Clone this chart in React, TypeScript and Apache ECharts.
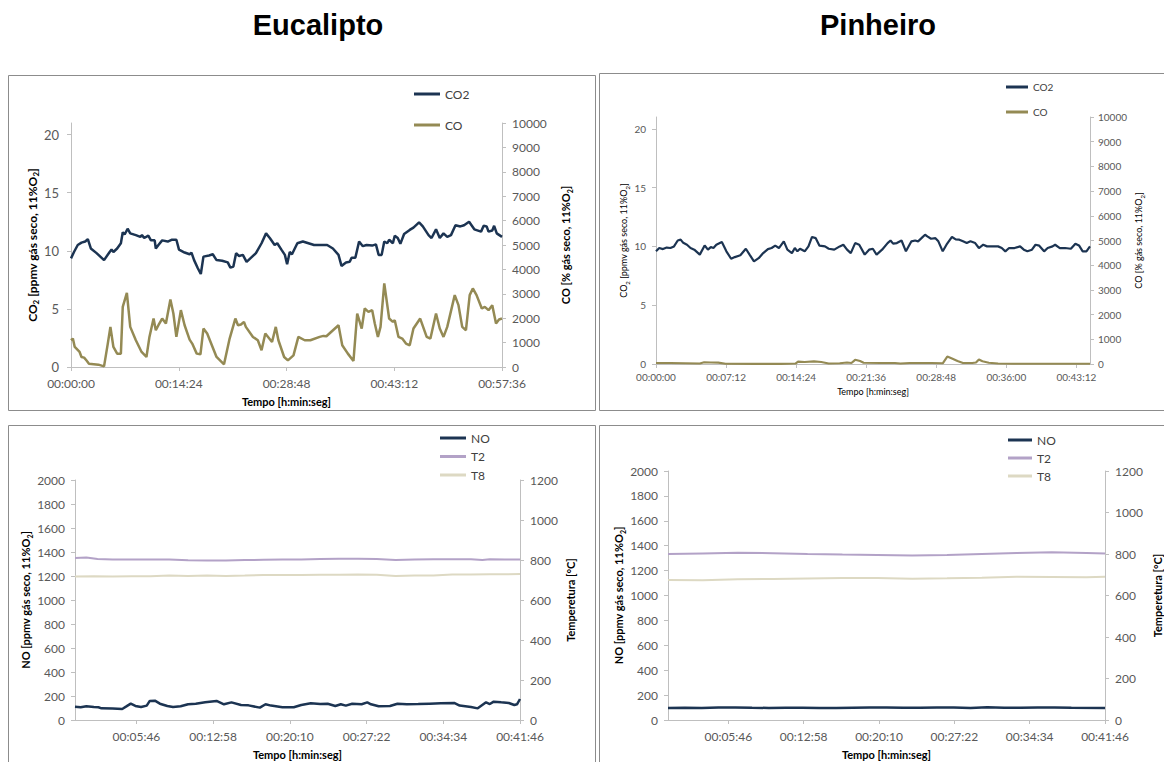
import React, { useEffect, useRef } from 'react';
import * as echarts from 'echarts';

// ---------- Eucalipto: CO2 / CO ----------
const euCo2Time = [0,24,54,84,114,135,159,205,265,310,325,340,370,400,415,430,454,475,520,556,569,587,620,641,671,680,701,731,776,806,845,866,911,951,966,987,1017,1041,1062,1107,1137,1167,1212,1257,1278,1302,1324,1348,1378,1408,1438,1483,1528,1564,1594,1633,1654,1687,1715,1733,1754,1772,1815,1859,1904,1949,2054,2100,2145,2169,2205,2235,2250,2280,2310,2340,2370,2415,2445,2467,2491,2512,2536,2551,2581,2596,2620,2641,2671,2716,2746,2791,2821,2867,2891,2927,2957,2987,3017,3047,3083,3122,3152,3192,3234,3288,3309,3333,3348,3378,3393,3414,3456];
const euCo2 = [9.35,9.9,10.5,10.7,10.8,11.0,10.2,9.8,9.2,9.9,10.1,9.9,10.2,10.65,11.6,11.4,11.9,11.5,11.35,11.2,11.35,11.1,11.3,10.9,10.9,10.2,10.5,10.9,10.8,10.95,10.95,10.1,9.85,9.7,9.85,9.2,8.5,8.0,9.5,9.6,9.7,9.2,9.15,9.0,8.55,8.65,9.8,9.55,9.65,9.05,9.35,9.8,10.65,11.5,11.1,10.5,10.65,10.1,9.65,8.85,9.9,9.7,10.65,10.8,10.65,10.5,10.5,10.2,9.65,8.7,9.0,9.05,9.4,9.4,10.8,10.4,10.5,10.45,10.55,9.65,9.65,10.8,10.65,10.95,10.65,11.3,11.1,10.6,11.45,11.8,12.0,12.45,12.1,11.35,11.1,11.85,11.1,11.5,11.2,11.35,12.2,12.1,12.2,12.5,11.85,11.65,12.15,12.1,11.65,11.75,12.15,11.5,11.2];
const euCoTime = [0,15,30,69,84,105,123,144,220,265,295,316,340,370,400,415,448,475,520,566,605,629,662,680,701,731,761,797,821,845,881,911,951,972,1008,1038,1062,1092,1167,1227,1272,1318,1339,1363,1387,1402,1459,1498,1528,1558,1612,1642,1663,1709,1739,1784,1823,1874,1919,1994,2024,2048,2145,2175,2220,2265,2295,2331,2355,2385,2415,2436,2461,2482,2512,2551,2581,2596,2626,2656,2686,2716,2746,2800,2852,2882,2927,2957,2987,3017,3077,3107,3137,3167,3197,3222,3252,3294,3318,3348,3378,3408,3432,3456];
const euCo = [1096,1164,822,616,411,384,274,137,96,27,959,1644,822,548,548,2466,3041,1644,1096,616,411,1233,1986,1507,1712,1986,1781,2767,2192,1233,2329,1712,1123,959,548,521,1575,1370,411,110,1164,1986,1712,1740,1849,1644,1233,1096,685,1370,1027,1644,1096,411,274,479,1233,1096,1096,1233,1274,1260,1712,890,548,247,2192,1575,2397,2260,2329,1781,1233,1644,3425,1986,1849,1918,1233,1164,959,890,1575,1986,1233,1164,2192,1575,1233,1644,2945,2534,1644,1507,2945,3219,2945,2397,2466,2329,2534,1781,1945,1986];

// ---------- Pinheiro: CO2 / CO ----------
const piCo2Time = [0,20,43,66,89,111,134,152,168,191,213,236,270,300,320,338,354,372,406,434,463,486,520,554,577,604,633,661,690,713,735,758,788,810,838,856,872,888,917,940,962,985,1008,1042,1065,1099,1133,1155,1178,1201,1228,1253,1287,1314,1337,1360,1394,1428,1446,1462,1485,1514,1541,1575,1598,1616,1637,1659,1673,1696,1723,1741,1768,1791,1825,1848,1870,1893,1916,1939,1968,1991,2018,2041,2075,2109,2132,2154,2177,2211,2245,2268,2290,2318,2340,2363,2393,2415,2445,2461,2490,2522,2558,2586,2608,2631,2654,2676];
const piCo2 = [9.58,9.86,9.77,9.9,9.86,10.0,10.5,10.57,10.3,10.14,9.86,9.72,9.3,10.08,9.72,9.94,9.86,10.14,10.37,9.58,8.95,9.09,9.24,9.8,9.3,8.73,9.0,9.43,9.77,9.86,10.06,9.86,10.43,9.72,9.43,9.86,9.58,9.8,9.58,10.0,10.8,10.7,10.06,10.0,9.8,9.72,10.0,10.14,9.72,9.43,10.28,10.14,9.3,9.72,9.8,9.3,9.72,10.28,10.5,10.23,10.28,10.5,9.58,10.43,10.5,10.43,10.7,10.99,10.85,10.65,10.7,10.43,9.58,10.14,10.8,10.6,10.57,10.43,10.28,10.43,10.28,9.86,10.14,10.0,10.0,10.0,9.86,9.58,9.86,9.86,10.0,9.72,9.58,9.72,10.14,10.06,9.58,9.86,10.0,10.14,9.86,9.86,9.8,10.23,10.08,9.58,9.58,10.0];
const piCoTime = [0,89,179,270,297,338,384,429,611,770,860,876,917,974,1019,1065,1133,1178,1205,1228,1258,1280,1382,1473,1507,1564,1632,1700,1768,1796,1825,1859,1893,1950,1973,1991,2013,2052,2109,2200,2313,2427,2540,2676];
const piCo = [40,40,30,20,70,60,55,10,5,5,20,100,80,110,80,20,30,60,40,170,120,50,40,40,20,40,40,40,30,300,220,120,40,40,60,180,110,50,20,10,10,10,10,10];

// ---------- Eucalipto: NO / T2 / T8 ----------
const euNoTime = [0,32,64,106,132,149,212,266,287,314,340,372,404,421,450,478,520,552,595,637,680,733,797,839,881,935,977,1041,1073,1104,1168,1232,1274,1328,1381,1423,1466,1497,1525,1561,1614,1646,1667,1710,1774,1816,1869,1933,1997,2060,2135,2166,2230,2268,2315,2336,2358,2400,2443,2474,2489,2506];
const euNo = [111,106,114,108,106,97,95,92,111,136,117,108,120,159,161,136,117,108,114,131,136,147,159,131,147,125,122,103,131,120,106,106,125,139,133,136,117,131,120,136,131,147,131,114,117,136,131,133,136,139,142,120,108,97,147,133,153,147,142,125,131,175];
const euT2Time = [0,64,127,212,319,425,531,637,743,850,956,1062,1168,1274,1381,1487,1593,1699,1805,1912,2018,2124,2230,2294,2336,2421,2506];
const euT2 = [810,813,805,803,802,802,803,799,798,798,800,801,802,803,805,806,806,805,800,803,804,804,804,800,804,803,803];
const euT8Time = [0,106,212,319,425,531,637,743,850,956,1062,1168,1274,1381,1487,1593,1699,1805,1912,2018,2124,2230,2336,2421,2506];
const euT8 = [717,719,718,719,719,722,720,722,720,722,725,725,725,726,726,727,726,720,722,723,728,727,729,729,730];

// ---------- Pinheiro: NO / T2 / T8 ----------
const piNoTime = [0,96,193,289,386,482,578,675,771,868,964,1060,1157,1253,1349,1446,1542,1639,1735,1831,1928,2024,2120,2217,2313,2506];
const piNo = [97,99,96,100,101,98,97,99,98,96,97,99,101,100,98,99,101,100,97,102,99,98,101,100,98,96];
const piTTime = [0,200,400,600,800,1000,1200,1400,1600,1800,2000,2200,2400,2506];
const piT2 = [800,803,806,804,800,797,795,793,795,800,805,808,805,803];
const piT8 = [675,674,678,680,682,684,684,681,683,686,690,689,688,690];

// ---------- axis ticks (seconds) ----------
const euTopTicks = [0, 864, 1728, 2592, 3456];
const piTopTicks = [0, 432, 864, 1296, 1728, 2160, 2592];
const bottomTicks = [346, 778, 1210, 1642, 2074, 2506];
const co2Ticks = [0, 5, 10, 15, 20];

const C_CO2 = '#1c3452';
const C_CO = '#948a54';
const C_T2 = '#b3a2c7';
const C_T8 = '#ddd9c3';
const AXIS = '#bfbfbf';
const LABEL = '#595959';
const FONT = 'Lato, "Open Sans", sans-serif';

const pairs = (t: number[], v: number[]) => t.map((x, i) => [x, v[i]]);
const hms = (s: number) => {
  const h = Math.floor(s / 3600);
  const m = Math.floor((s % 3600) / 60);
  const sec = Math.round(s % 60);
  const p = (n: number) => (n < 10 ? '0' + n : '' + n);
  return p(h) + ':' + p(m) + ':' + p(sec);
};

const richFor = (size: number, bold: boolean) => ({
  b: { fontSize: size, fontWeight: bold ? 'bold' : 'normal', fontFamily: FONT, color: '#000', lineHeight: size + 4 },
  s: { fontSize: Math.round(size * 0.66), fontWeight: bold ? 'bold' : 'normal', fontFamily: FONT, color: '#000', lineHeight: Math.round(size * 0.66), verticalAlign: 'bottom' },
});

function xAxisDef(grid: number, max: number, ticks: number[], size: number, bold: boolean, labelMargin: number, nameGap: number) {
  return {
    type: 'value', gridIndex: grid, min: 0, max,
    axisLine: { show: true, lineStyle: { color: AXIS, width: 1 } },
    axisTick: { show: true, length: 4, lineStyle: { color: AXIS }, customValues: ticks },
    axisLabel: { color: LABEL, fontFamily: FONT, fontSize: size, margin: labelMargin, formatter: (v: number) => hms(v), customValues: ticks },
    splitLine: { show: false },
    name: 'Tempo [h:min:seg]', nameLocation: 'middle', nameGap,
    nameTextStyle: { color: '#000', fontFamily: FONT, fontSize: size - 1, fontWeight: bold ? 'bold' : 'normal' },
  };
}

function yAxisDef(grid: number, pos: string, max: number, interval: number, size: number, nameRich: string, bold: boolean, nameGap: number, margin: number, custom?: number[]) {
  const labelObj: any = { color: LABEL, fontFamily: FONT, fontSize: size, margin, formatter: (v: number) => String(v) };
  const tickObj: any = { show: true, length: 4, lineStyle: { color: AXIS } };
  if (custom) { labelObj.customValues = custom; tickObj.customValues = custom; }
  return {
    type: 'value', gridIndex: grid, position: pos, min: 0, max, interval,
    axisLine: { show: true, lineStyle: { color: AXIS, width: 1 } },
    axisTick: tickObj,
    axisLabel: labelObj,
    splitLine: { show: false },
    name: nameRich, nameLocation: 'middle', nameGap,
    nameTextStyle: { rich: richFor(size - 1, bold) },
  };
}

function line(name: string, color: string, x: number, y: number, data: number[][], width: number) {
  return {
    type: 'line', name, xAxisIndex: x, yAxisIndex: y, data, showSymbol: false, symbol: 'none',
    lineStyle: { color, width }, itemStyle: { color }, color,
  };
}

function legendDef(names: string[], left: number, top: number, gap: number, size: number, iw: number) {
  return {
    data: names, orient: 'vertical', left, top, padding: 0, itemGap: gap - (size + 2), itemWidth: iw, itemHeight: 3,
    icon: 'rect', selectedMode: false,
    textStyle: { color: '#404040', fontFamily: FONT, fontSize: size, lineHeight: size + 2 },
  };
}

const co2Name = '{b|CO}{s|2}{b| [ppmv gás seco, 11%O}{s|2}{b|]}';
const coName = '{b|CO [% gás seco, 11%O}{s|2}{b|]}';
const noName = '{b|NO [ppmv gás seco, 11%O}{s|2}{b|]}';
const tName = '{b|Temperetura [°C]}';

const option: any = {
  animation: false,
  backgroundColor: '#fff',
  grid: [
    { left: 71, top: 123, width: 431, height: 244 },
    { left: 656, top: 117, width: 434, height: 247 },
    { left: 75, top: 480, width: 445, height: 240 },
    { left: 668, top: 471, width: 437, height: 249 },
  ],
  xAxis: [
    xAxisDef(0, 3456, euTopTicks, 12, true, 10, 29),
    xAxisDef(1, 2676, piTopTicks, 10, false, 8, 23),
    xAxisDef(2, 2506, bottomTicks, 12, true, 10, 29),
    xAxisDef(3, 2506, bottomTicks, 12, true, 10, 29),
  ],
  yAxis: [
    yAxisDef(0, 'left', 21, 5, 13, co2Name, true, 28, 12, co2Ticks),
    yAxisDef(0, 'right', 10000, 1000, 12, coName, true, 56, 10),
    yAxisDef(1, 'left', 21, 5, 10, co2Name, false, 25, 10, co2Ticks),
    yAxisDef(1, 'right', 10000, 1000, 10, coName, false, 42, 8),
    yAxisDef(2, 'left', 2000, 200, 12, noName, true, 40, 10),
    yAxisDef(2, 'right', 1200, 200, 12, tName, true, 43, 10),
    yAxisDef(3, 'left', 2000, 200, 12, noName, true, 39, 10),
    yAxisDef(3, 'right', 1200, 200, 12, tName, true, 45, 10),
  ],
  legend: [
    legendDef(['CO2', 'CO'], 414, 87, 31, 12, 26),
    legendDef(['CO2', 'CO'], 1006, 81, 25, 10, 22),
    legendDef(['NO', 'T2', 'T8'], 440, 431, 18.5, 12, 26),
    legendDef(['NO', 'T2', 'T8'], 1008, 433, 18, 12, 24),
  ],
  series: [
    line('CO2', C_CO2, 0, 0, pairs(euCo2Time, euCo2), 2.5),
    line('CO', C_CO, 0, 1, pairs(euCoTime, euCo), 2.5),
    line('CO2', C_CO2, 1, 2, pairs(piCo2Time, piCo2), 2.2),
    line('CO', C_CO, 1, 3, pairs(piCoTime, piCo), 2.2),
    line('NO', C_CO2, 2, 4, pairs(euNoTime, euNo), 2.5),
    line('T2', C_T2, 2, 5, pairs(euT2Time, euT2), 2),
    line('T8', C_T8, 2, 5, pairs(euT8Time, euT8), 2),
    line('NO', C_CO2, 3, 6, pairs(piNoTime, piNo), 2.5),
    line('T2', C_T2, 3, 7, pairs(piTTime, piT2), 2),
    line('T8', C_T8, 3, 7, pairs(piTTime, piT8), 2),
  ],
  graphic: [
    { type: 'rect', shape: { x: 8.5, y: 75.5, width: 587, height: 335 }, style: { fill: 'none', stroke: '#8c8c8c', lineWidth: 1 }, silent: true },
    { type: 'rect', shape: { x: 599.5, y: 73.5, width: 580, height: 337 }, style: { fill: 'none', stroke: '#8c8c8c', lineWidth: 1 }, silent: true },
    { type: 'rect', shape: { x: 8.5, y: 425.5, width: 587, height: 350 }, style: { fill: 'none', stroke: '#8c8c8c', lineWidth: 1 }, silent: true },
    { type: 'rect', shape: { x: 599.5, y: 425.5, width: 580, height: 350 }, style: { fill: 'none', stroke: '#8c8c8c', lineWidth: 1 }, silent: true },
    { type: 'text', x: 318, y: 25, style: { text: 'Eucalipto', fontSize: 29, fontWeight: 'bold', fontFamily: '"Liberation Sans", Arial, sans-serif', fill: '#000', align: 'center', verticalAlign: 'middle' } },
    { type: 'text', x: 878, y: 25, style: { text: 'Pinheiro', fontSize: 29, fontWeight: 'bold', fontFamily: '"Liberation Sans", Arial, sans-serif', fill: '#000', align: 'center', verticalAlign: 'middle' } },
  ],
};

export default function App() {
  const ref = useRef<HTMLDivElement>(null);
  useEffect(() => {
    if (!ref.current) return;
    const chart = echarts.init(ref.current, null, { renderer: 'svg' });
    chart.setOption(option);
    return () => chart.dispose();
  }, []);
  return <div ref={ref} style={{ position: 'absolute', left: 0, top: 0, width: 1164, height: 762, background: '#fff' }} />;
}
